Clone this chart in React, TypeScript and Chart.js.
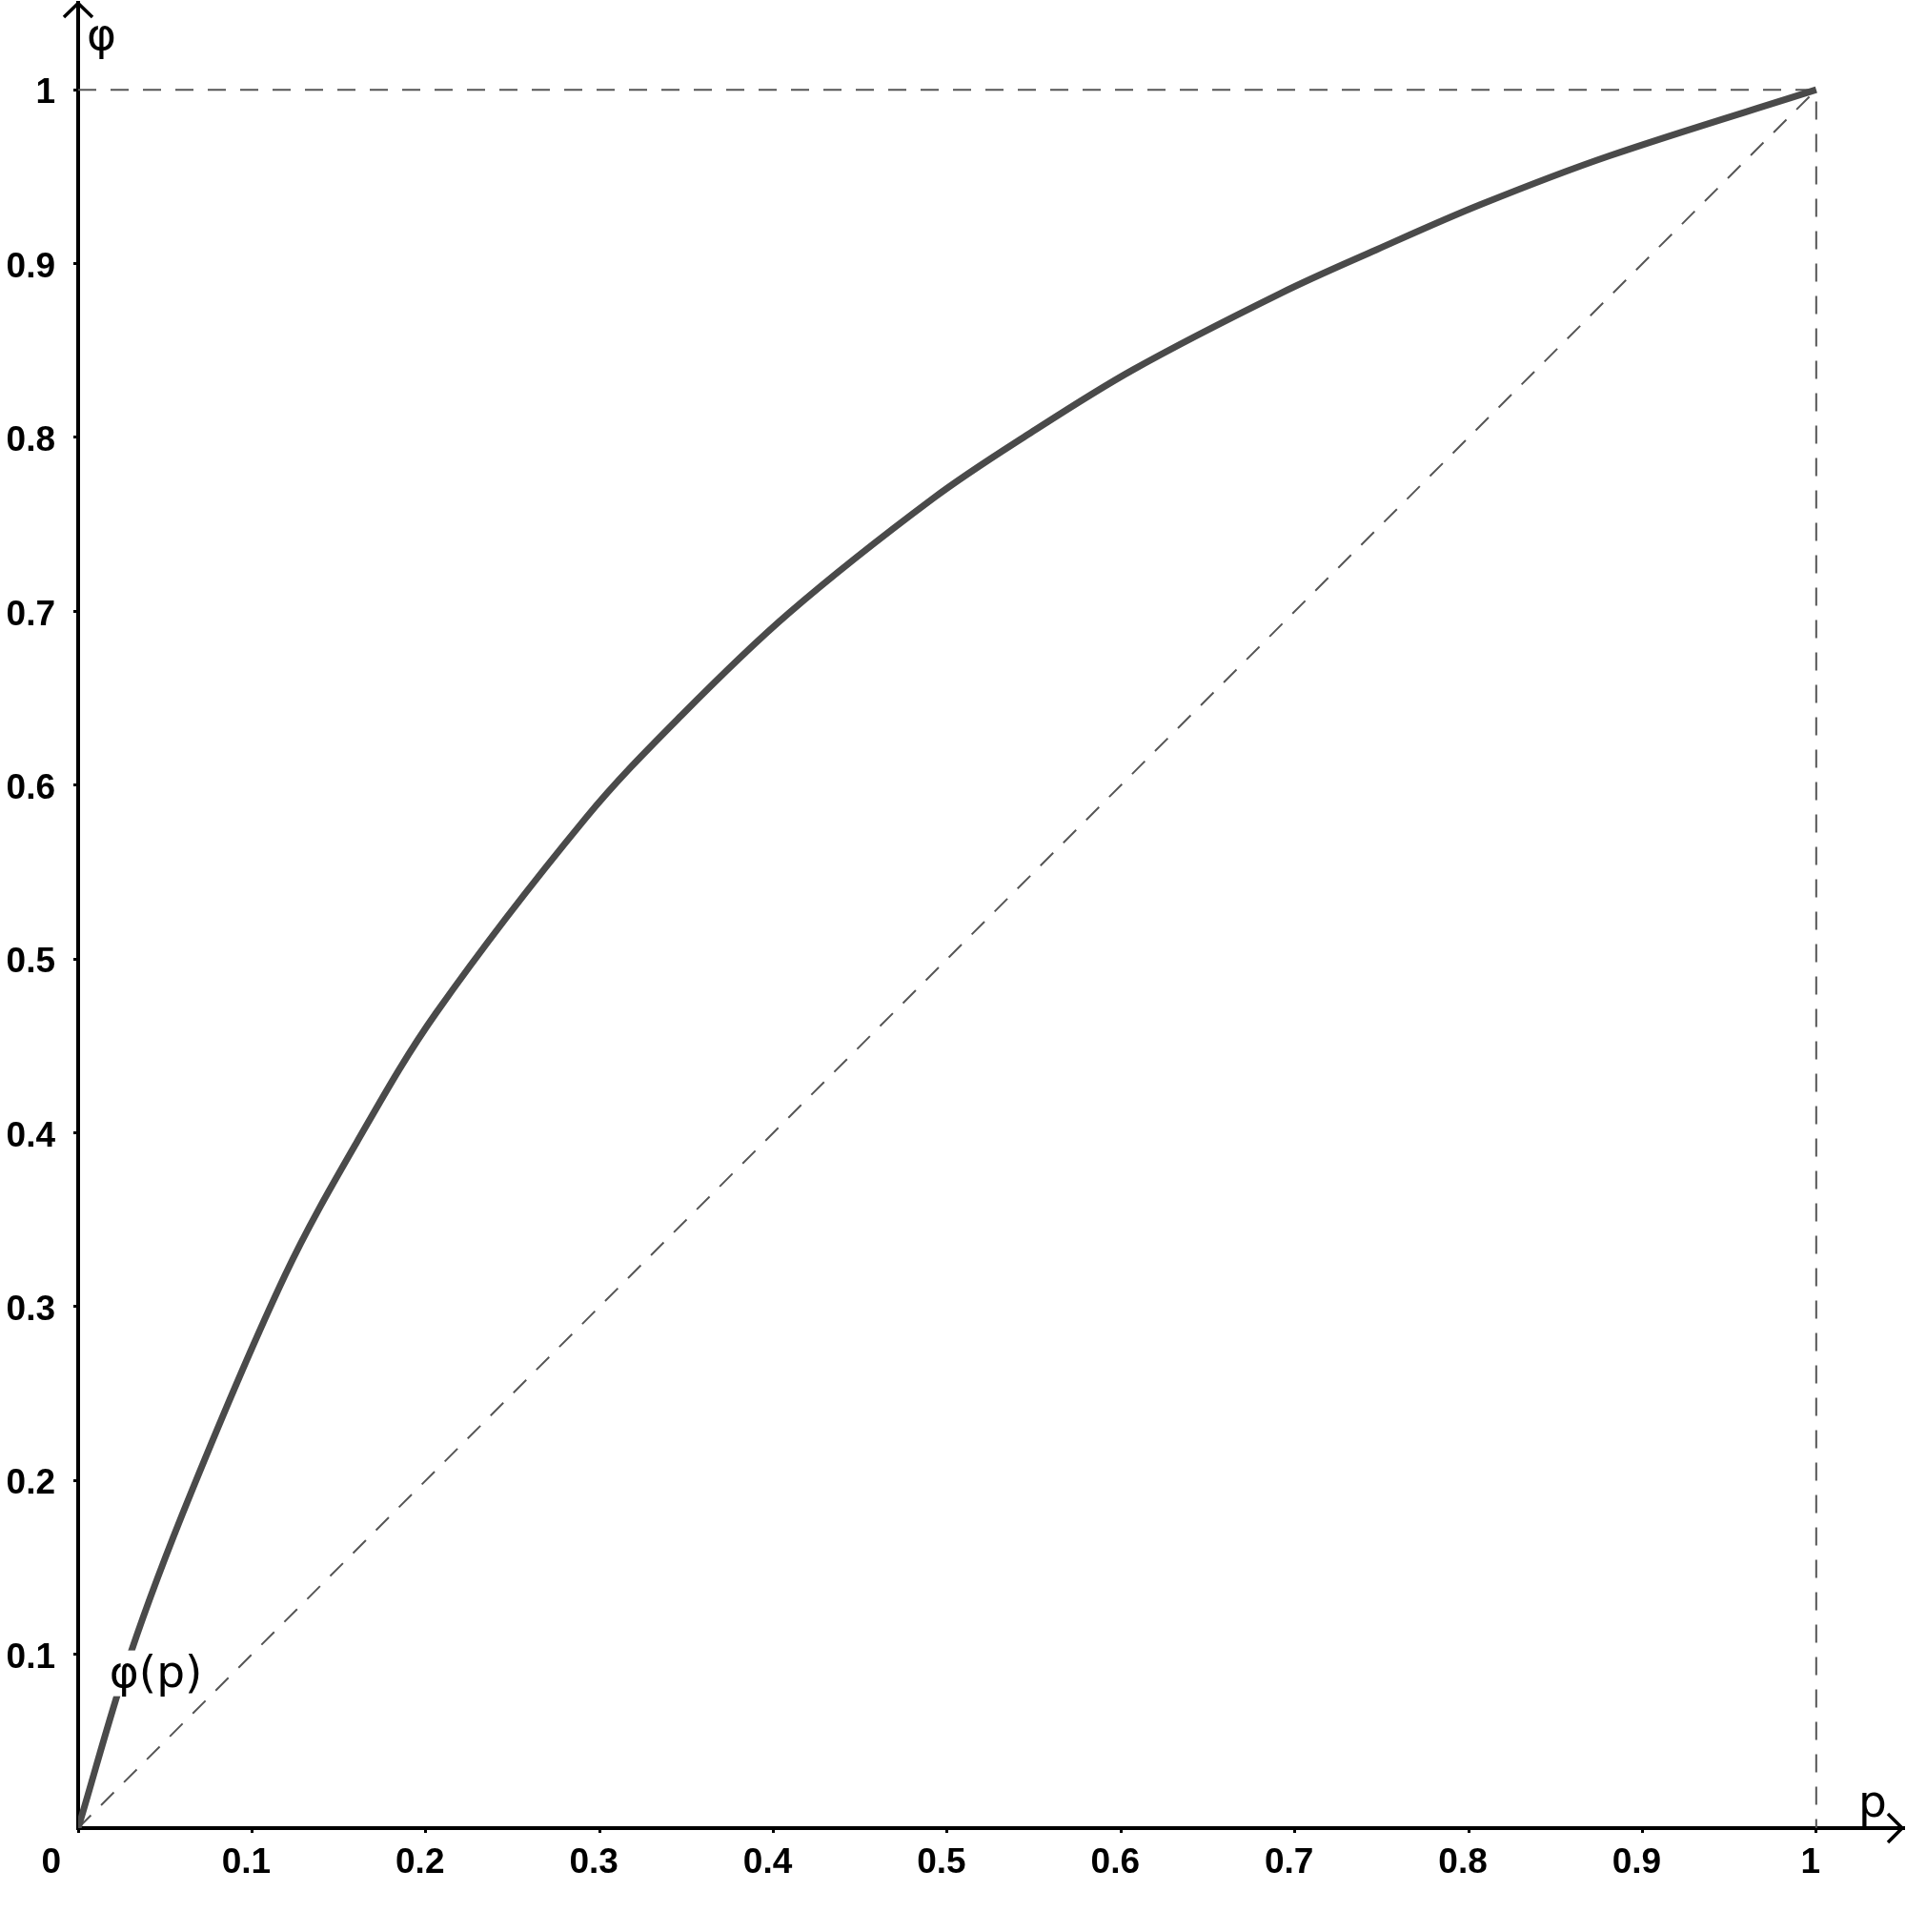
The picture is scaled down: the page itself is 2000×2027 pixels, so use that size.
import React, { useEffect, useRef } from "react";
import { Chart, registerables } from "chart.js";

Chart.register(...registerables);

// Curve φ(p), values
const pValues = [0, 0.03, 0.065, 0.119, 0.16, 0.206, 0.292, 0.347, 0.409, 0.492, 0.547, 0.607, 0.692, 0.747, 0.807, 0.881, 1];
const phiValues = [0, 0.1, 0.193, 0.318, 0.394, 0.469, 0.581, 0.64, 0.699, 0.765, 0.802, 0.839, 0.883, 0.908, 0.934, 0.962, 1];

// Reference lines (dashed)
const diagonalP = [0, 1];
const diagonalPhi = [0, 1];
const boxP = [0, 1, 1];
const boxPhi = [1, 1, 0];

// Ticks
const xTickValues = [0, 0.1, 0.2, 0.3, 0.4, 0.5, 0.6, 0.7, 0.8, 0.9, 1];
const xTickLabels = ["", "0.1", "0.2", "0.3", "0.4", "0.5", "0.6", "0.7", "0.8", "0.9", "1"];
const yTickValues = [0.1, 0.2, 0.3, 0.4, 0.5, 0.6, 0.7, 0.8, 0.9, 1];
const yTickLabels = ["0.1", "0.2", "0.3", "0.4", "0.5", "0.6", "0.7", "0.8", "0.9", "1"];
const originLabel = "0";
const xAxisName = "p";
const yAxisName = "φ";
const curveName = "φ(p)";

const toPoints = (xs: number[], ys: number[]) => xs.map((v, i) => ({ x: v, y: ys[i] }));

const tickFont = { family: '"Liberation Sans", Arial, sans-serif', size: 37, weight: "bold" as const };
const nameFont = '47px "DejaVu Sans", sans-serif';

const overlayPlugin = {
  id: "overlay",
  afterDraw(chart: any) {
    const { ctx } = chart;
    const xs = chart.scales.x;
    const ys = chart.scales.y;
    const x0 = xs.getPixelForValue(0);
    const y0 = ys.getPixelForValue(0);
    const xEnd = xs.right;
    const yEnd = ys.top;
    ctx.save();
    // arrow heads
    ctx.strokeStyle = "#000";
    ctx.lineWidth = 3.5;
    ctx.lineJoin = "miter";
    ctx.beginPath();
    ctx.moveTo(x0 - 15, yEnd + 15);
    ctx.lineTo(x0, yEnd + 0.5);
    ctx.lineTo(x0 + 15, yEnd + 15);
    ctx.stroke();
    ctx.beginPath();
    ctx.moveTo(xEnd - 16, y0 - 15);
    ctx.lineTo(xEnd - 1, y0);
    ctx.lineTo(xEnd - 16, y0 + 15);
    ctx.stroke();

    // origin label
    ctx.fillStyle = "#000";
    ctx.font = 'bold 37px "Liberation Sans", Arial, sans-serif';
    ctx.textAlign = "right";
    ctx.textBaseline = "middle";
    ctx.fillText(originLabel, x0 - 18, y0 + 37);

    // axis names
    ctx.font = nameFont;
    ctx.textAlign = "left";
    ctx.textBaseline = "alphabetic";
    ctx.fillText(yAxisName, x0 + 9, 52);
    ctx.fillText(xAxisName, xEnd - 47, y0 - 12);

    // curve label with white background
    const lx = xs.getPixelForValue(0.018);
    const ly = ys.getPixelForValue(0.1);
    ctx.fillStyle = "#fff";
    ctx.fillRect(lx, ly - 4, 100, 48);
    ctx.fillStyle = "#000";
    ctx.fillText(curveName, lx, ly + 34);
    ctx.restore();
  },
};

export default function App() {
  const canvasRef = useRef<HTMLCanvasElement | null>(null);

  useEffect(() => {
    const canvas = canvasRef.current;
    if (!canvas) return;
    const chart = new Chart(canvas, {
      type: "scatter",
      data: {
        datasets: [
          {
            label: curveName,
            data: toPoints(pValues, phiValues),
            showLine: true,
            borderColor: "#4a4a4a",
            borderWidth: 7,
            pointRadius: 0,
            tension: 0.35,
            fill: false,
          },
          {
            label: "diagonal",
            data: toPoints(diagonalP, diagonalPhi),
            showLine: true,
            borderColor: "#555",
            borderWidth: 2,
            borderDash: [19, 15],
            pointRadius: 0,
            fill: false,
          },
          {
            label: "box",
            data: toPoints(boxP, boxPhi),
            showLine: true,
            borderColor: "#555",
            borderWidth: 2,
            borderDash: [19, 15],
            pointRadius: 0,
            fill: false,
          },
        ],
      },
      options: {
        animation: false,
        responsive: false,
        devicePixelRatio: 1,
        layout: { padding: { top: 3, right: 3, left: 0, bottom: 0 } },
        plugins: {
          legend: { display: false },
          tooltip: { enabled: false },
        },
        scales: {
          x: {
            type: "linear",
            position: "bottom",
            min: 0,
            max: 1.05,
            afterBuildTicks: (scale: any) => {
              scale.ticks = xTickValues.map((v) => ({ value: v }));
            },
            afterFit: (scale: any) => {
              scale.height = 109;
              scale.paddingLeft = 0;
              scale.paddingRight = 0;
            },
            ticks: {
              callback: (_v: any, i: number) => xTickLabels[i],
              font: tickFont,
              color: "#000",
              padding: 10,
              labelOffset: -6,
              maxRotation: 0,
              autoSkip: false,
            },
            grid: { display: true, drawOnChartArea: false, drawTicks: true, tickLength: 5, color: "#000", lineWidth: 3 },
            border: { display: true, color: "#000", width: 4 },
          },
          y: {
            type: "linear",
            position: "left",
            min: 0,
            max: 1.05,
            afterBuildTicks: (scale: any) => {
              scale.ticks = yTickValues.map((v) => ({ value: v }));
            },
            afterFit: (scale: any) => {
              scale.width = 82;
              scale.paddingTop = 0;
              scale.paddingBottom = 0;
            },
            ticks: {
              callback: (_v: any, i: number) => yTickLabels[i],
              font: tickFont,
              color: "#000",
              padding: 19,
              labelOffset: 4,
              autoSkip: false,
            },
            grid: { display: true, drawOnChartArea: false, drawTicks: true, tickLength: 5, color: "#000", lineWidth: 3 },
            border: { display: true, color: "#000", width: 4 },
          },
        },
      },
      plugins: [overlayPlugin],
    });
    return () => chart.destroy();
  }, []);

  return (
    <div style={{ position: "fixed", left: 0, top: 0, width: 2000, height: 2027, background: "#fff" }}>
      <canvas ref={canvasRef} width={2000} height={2027} style={{ display: "block" }} />
    </div>
  );
}
